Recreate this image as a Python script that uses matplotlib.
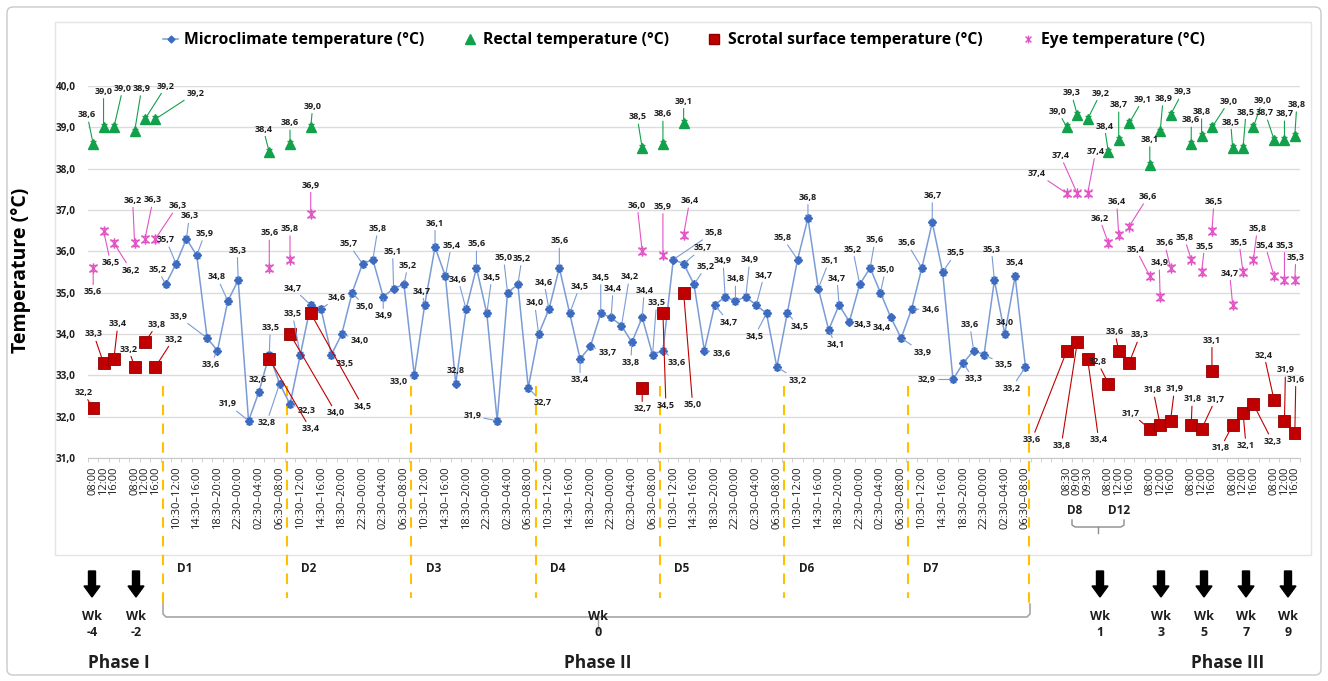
import numpy as np
import matplotlib.pyplot as plt
from matplotlib.lines import Line2D
from matplotlib.path import Path
from matplotlib.patches import FancyArrow, FancyBboxPatch, Rectangle
from matplotlib.transforms import blended_transform_factory

plt.rcParams['font.family'] = ['Open Sans', 'DejaVu Sans']
plt.rcParams['font.weight'] = 'bold'

# x axis categories
p1_times = ['08:00', '12:00', '16:00']
p2_times = ['10:30–12:00', '14:30–16:00', '18:30–20:00',
            '22:30–00:00', '02:30–04:00', '06:30–08:00']
p3_first = ['08:30', '09:00', '09:30']
p3_times = ['08:00', '12:00', '16:00']
n_days = 7

# microclimate temperature, 2 h steps through D1..D7
micro = [35.2, 35.7, 36.3, 35.9, 33.9, 33.6, 34.8, 35.3, 31.9, 32.6, 33.5, 32.8,
         32.3, 33.5, 34.7, 34.6, 33.5, 34.0, 35.0, 35.7, 35.8, 34.9, 35.1, 35.2,
         33.0, 34.7, 36.1, 35.4, 32.8, 34.6, 35.6, 34.5, 31.9, 35.0, 35.2, 32.7,
         34.0, 34.6, 35.6, 34.5, 33.4, 33.7, 34.5, 34.4, 34.2, 33.8, 34.4, 33.5,
         33.6, 35.8, 35.7, 35.2, 33.6, 34.7, 34.9, 34.8, 34.9, 34.7, 34.5, 33.2,
         34.5, 35.8, 36.8, 35.1, 34.1, 34.7, 34.3, 35.2, 35.6, 35.0, 34.4, 33.9,
         34.6, 35.6, 36.7, 35.5, 32.9, 33.3, 33.6, 33.5, 35.3, 34.0, 35.4, 33.2]

# rectal temperature
rectal_p1 = [38.6, 39.0, 39.0, 38.9, 39.2, 39.2]
rectal_p2 = {10: 38.4, 12: 38.6, 14: 39.0, 46: 38.5, 48: 38.6, 50: 39.1}
rectal_p3 = [39.0, 39.3, 39.2, 38.4, 38.7, 39.1, 38.1, 38.9, 39.3,
             38.6, 38.8, 39.0, 38.5, 38.5, 39.0, 38.7, 38.7, 38.8]

# scrotal surface temperature
scrotal_p1 = [32.2, 33.3, 33.4, 33.2, 33.8, 33.2]
scrotal_p2 = {10: 33.4, 12: 34.0, 14: 34.5, 46: 32.7, 48: 34.5, 50: 35.0}
scrotal_p3 = [33.6, 33.8, 33.4, 32.8, 33.6, 33.3, 31.7, 31.8, 31.9,
              31.8, 31.7, 33.1, 31.8, 32.1, 32.3, 32.4, 31.9, 31.6]

# eye temperature
eye_p1 = [35.6, 36.5, 36.2, 36.2, 36.3, 36.3]
eye_p2 = {10: 35.6, 12: 35.8, 14: 36.9, 46: 36.0, 48: 35.9, 50: 36.4}
eye_p3 = [37.4, 37.4, 37.4, 36.2, 36.4, 36.6, 35.4, 34.9, 35.6,
          35.8, 35.5, 36.5, 34.7, 35.5, 35.8, 35.4, 35.3, 35.3]

# ---- category layout ----
cats = []
cats += p1_times + [''] + p1_times
p2_start = len(cats)
for d in range(n_days):
    for t in p2_times:
        cats += ['', t]
cats += ['', '', '']
p3_start = len(cats)
cats += p3_first
for w in range(5):
    cats += [''] + p3_times
x_p1 = [i for i in range(p2_start) if cats[i]]
x_p3 = [i for i in range(p3_start, len(cats)) if cats[i]]


def series(p1, p2, p3):
    xs = list(x_p1) + [p2_start + k for k in p2] + list(x_p3)
    ys = list(p1) + [p2[k] for k in p2] + list(p3)
    return np.array(xs), np.array(ys)


x_micro = p2_start + np.arange(len(micro))
x_rec, y_rec = series(rectal_p1, rectal_p2, rectal_p3)
x_scr, y_scr = series(scrotal_p1, scrotal_p2, scrotal_p3)
x_eye, y_eye = series(eye_p1, eye_p2, eye_p3)

# data label offsets (pixels)
micro_off = [(-8, 15), (-10, 24), (3, 23), (8, 22), (-29, 22), (-7, -14), (-11, 24), (-1, 30), (-21, 17), (-1, 12), (1, 27), (-13, -39),
             (17, -6), (-8, 41), (-18, 17), (16, 12), (13, -9), (18, -6), (13, -14), (-14, 20), (5, 31), (0, -19), (-1, 37), (4, 19),
             (-16, -6), (-3, 14), (0, 24), (6, 31), (0, 13), (-8, 30), (0, 24), (5, 36), (-25, 5), (-4, 35), (4, 26), (14, -15),
             (-4, 31), (-5, 27), (0, 27), (10, 27), (0, -21), (17, -6), (0, 36), (2, 29), (8, 49), (-1, -20), (2, 27), (4, 52),
             (14, -12), (40, 27), (19, 16), (12, 18), (17, -3), (14, -17), (-2, 36), (0, 22), (4, 37), (8, 30), (-12, -23), (21, -13),
             (12, -13), (-15, 22), (0, 21), (11, 28), (7, -15), (-2, 27), (13, -3), (-7, 35), (5, 28), (5, 23), (-9, -10), (21, -14),
             (19, 0), (-15, 25), (0, 27), (13, 19), (-26, 0), (10, -16), (-4, 26), (20, -10), (-3, 31), (0, 12), (0, 14), (-14, -21)]
rec_off = [(-6, 29), (0, 36), (9, 39), (7, 43), (21, 33), (40, 26),
           (-6, 23), (0, 21), (2, 21), (-5, 31), (0, 30), (0, 22),
           (-9, 16), (-6, 22), (13, 26), (-4, 26), (0, 35), (14, 24), (0, 25), (3, 33), (12, 23),
           (0, 24), (0, 24), (17, 26), (-2, 26), (3, 36), (9, 27), (-9, 27), (0, 26), (2, 31)]
eye_off = [(0, -24), (7, -32), (17, -27), (-2, 43), (8, 39), (22, 33),
           (0, 35), (0, 31), (0, 29), (-5, 46), (0, 49), (6, 34),
           (-30, 20), (-17, 38), (8, 42), (-9, 25), (-2, 33), (19, 30), (-14, 27), (-1, 34), (-6, 25),
           (-7, 22), (3, 26), (2, 29), (-3, 32), (-4, 30), (4, 31), (-9, 31), (0, 35), (1, 23)]
scr_off = [(-10, 16), (-10, 29), (4, 35), (-6, 18), (12, 18), (18, 28),
           (41, -70), (46, -79), (52, -93), (0, -21), (3, -92), (9, -112),
           (-35, -89), (-16, -103), (11, -81), (-11, 22), (-4, 19), (11, 28), (-19, 16), (-7, 35), (4, 32),
           (1, 26), (14, 30), (0, 31), (-12, -23), (3, -33), (19, -37), (-10, 45), (1, 51), (1, 54)]

c_micro_line = '#7A9CD6'
c_micro = '#3D6BBF'
c_rec = '#12A14B'
c_scr = '#C00000'
c_eye = '#E253C6'
c_gold = '#FFC000'
c_text = '#1E1E1E'

W, H = 1328, 681
fig = plt.figure(figsize=(W / 100, H / 100), dpi=100)

# overlay in pixel units for frame and phase annotations
ov = fig.add_axes([0, 0, 1, 1])
ov.set_xlim(0, W)
ov.set_ylim(H, 0)
ov.axis('off')
ov.add_patch(FancyBboxPatch((7, 7), 1314, 668, boxstyle='round,pad=0,rounding_size=6',
                            fill=False, ec='#C9C9C9', lw=1))
ov.add_patch(Rectangle((55, 22), 1256, 533, fill=False, ec='#E4E4E4', lw=1))

ax = fig.add_axes([88 / W, 1 - 458 / H, 1212 / W, 372 / H])
ax.set_zorder(2)
ax.patch.set_alpha(0)

ax.set_xlim(-0.5, len(cats) - 0.5)
ax.set_ylim(31, 40)
ax.set_yticks(np.arange(31, 41))
ax.set_yticklabels([f'{v:.1f}'.replace('.', ',') for v in np.arange(31, 41)],
                   fontsize=7.2, fontweight='bold')
ax.tick_params(axis='y', length=0, pad=9, colors=c_text)
ax.grid(axis='y', color='#DCDCDC', lw=1)
ax.set_axisbelow(True)
for s in ['left', 'right', 'top']:
    ax.spines[s].set_visible(False)
ax.spines['bottom'].set_color('#C8C8C8')

ax.set_xticks(range(len(cats)))
ax.set_xticklabels(cats, rotation=90, fontsize=8, fontweight='normal', va='top')
ax.set_xticks(np.arange(-0.5, len(cats), 1), minor=True)
ax.tick_params(axis='x', which='major', length=0, pad=6, colors=c_text)
ax.tick_params(axis='x', which='minor', length=3, color='#C8C8C8')

ax.set_ylabel('Temperature (°C)', fontsize=14, fontweight='bold')
ax.yaxis.set_label_coords(-0.047, 0.505)

# markers
star = Path([(-1, -1), (1, 1), (-1, 1), (1, -1), (0, -1.3), (0, 1.3)],
            [Path.MOVETO, Path.LINETO, Path.MOVETO, Path.LINETO, Path.MOVETO, Path.LINETO])
err = 0.07

ax.errorbar(x_micro, micro, yerr=err, color=c_micro_line, lw=1.1, marker='D', ms=4.5,
            mfc=c_micro, mec=c_micro, ecolor=c_micro, elinewidth=0.8, capsize=2, zorder=3)
ax.errorbar(x_eye, y_eye, yerr=err, ls='none', marker=star, ms=7.5, mfc='none', mec=c_eye,
            mew=1, ecolor=c_eye, elinewidth=0.8, capsize=3, zorder=4)
ax.errorbar(x_rec, y_rec, yerr=err, ls='none', marker='^', ms=7, color=c_rec,
            ecolor=c_rec, elinewidth=0.8, capsize=2, zorder=4)
ax.errorbar(x_scr, y_scr, yerr=err, ls='none', marker='s', ms=8, mfc=c_scr, mec='#8E0000',
            mew=0.6, ecolor='#8E0000', elinewidth=0.8, capsize=2, zorder=5)


def label_points(xs, ys, offs, color):
    for x, y, (dx, dy) in zip(xs, ys, offs):
        txt = f'{y:.1f}'.replace('.', ',')
        props = None
        if np.hypot(dx, dy) > 14:
            props = dict(arrowstyle='-', color=color, lw=0.8, shrinkA=0, shrinkB=2)
        ax.annotate(txt, (x, y), xytext=(dx, dy), textcoords='offset pixels',
                    ha='center', va='center', fontsize=6.5, fontweight='bold',
                    color=c_text, arrowprops=props, annotation_clip=False, zorder=6)


label_points(x_micro, micro, micro_off, c_micro_line)
label_points(x_rec, y_rec, rec_off, c_rec)
label_points(x_eye, y_eye, eye_off, c_eye)
label_points(x_scr, y_scr, scr_off, c_scr)

# day separators and day names
trans = blended_transform_factory(ax.transData, fig.transFigure)
bounds = [p2_start - 0.3 + 12 * d for d in range(n_days)] + [p2_start - 0.7 + 12 * n_days]
for i, b in enumerate(bounds):
    low = 603 if i in (0, len(bounds) - 1) else 598
    ax.plot([b, b], [1 - 386 / H, 1 - low / H], transform=trans, color=c_gold,
            ls=(0, (5, 4)), lw=1.5, clip_on=False, zorder=1)
    if i < n_days:
        ax.text(b + 1.4, 1 - 569 / H, f'D{i + 1}', transform=trans, ha='left',
                va='center', fontsize=8.5, fontweight='bold', color=c_text)

# brace under phase II
ov.plot([163, 163, 166, 1027, 1030, 1030], [603, 614, 617, 617, 614, 604], color='#A6A6A6', lw=1.2)
ov.plot([598, 598], [617, 631], color='#A6A6A6', lw=1)
# brace under D8 / D12
ov.text(1075, 511, 'D8', ha='center', va='center', fontsize=8.5, fontweight='bold', color=c_text)
ov.text(1119, 511, 'D12', ha='center', va='center', fontsize=8.5, fontweight='bold', color=c_text)
ov.plot([1072, 1072, 1075, 1121, 1124, 1124], [520, 525, 527, 527, 525, 520], color='#8C8C8C', lw=1)
ov.plot([1098, 1098], [527, 533], color='#8C8C8C', lw=1)

# sampling weeks
weeks = [('-4', 92), ('-2', 136), ('0', 598), ('1', 1100), ('3', 1161), ('5', 1204), ('7', 1246), ('9', 1288)]
for wk, xp in weeks:
    if wk != '0':
        ov.add_patch(FancyArrow(xp, 571, 0, 26, width=7, head_width=16, head_length=11,
                                length_includes_head=True, color='black'))
    ov.text(xp, 617, 'Wk', ha='center', va='center', fontsize=9, fontweight='bold', color=c_text)
    ov.text(xp, 633, wk, ha='center', va='center', fontsize=9, fontweight='bold', color=c_text)

for name, xp in [('Phase I', 119), ('Phase II', 598), ('Phase III', 1228)]:
    ov.text(xp, 663, name, ha='center', va='center', fontsize=12.5, fontweight='bold', color=c_text)

handles = [
    Line2D([], [], color=c_micro_line, lw=1.1, marker='D', ms=3.5, mfc=c_micro, mec=c_micro),
    Line2D([], [], ls='none', marker='^', ms=6.5, color=c_rec),
    Line2D([], [], ls='none', marker='s', ms=6.5, mfc=c_scr, mec='#8E0000'),
    Line2D([], [], ls='none', marker=star, ms=5.5, mfc='none', mec=c_eye),
]
labels = ['Microclimate temperature (°C)', 'Rectal temperature (°C)',
          'Scrotal surface temperature (°C)', 'Eye temperature (°C)']
fig.legend(handles, labels, loc='center', bbox_to_anchor=(0.515, 0.941), ncol=4, frameon=False,
           prop=dict(weight='bold', size=11.3), columnspacing=2.4, handlelength=1.0, handletextpad=0.35)

fig.savefig('out.png', dpi=100, facecolor='white')
